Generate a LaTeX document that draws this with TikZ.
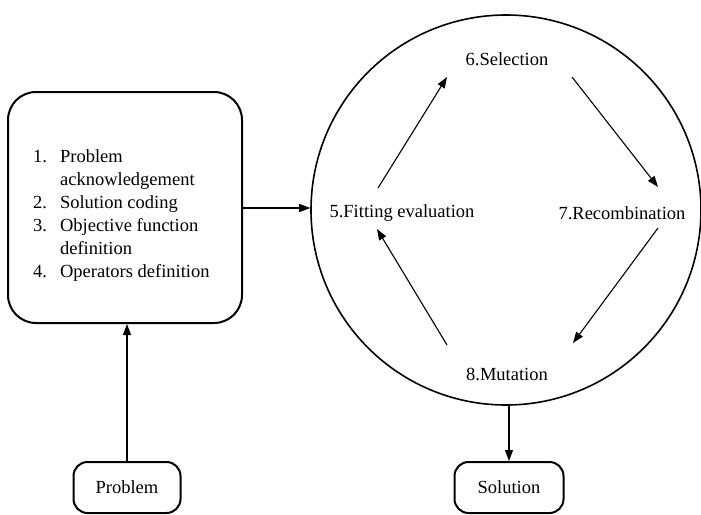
\documentclass[tikz,border=0pt]{standalone}
\usepackage{fontspec}
\setmainfont{Liberation Serif}
\usetikzlibrary{arrows.meta}
\begin{document}
\begin{tikzpicture}[x=1pt,y=-1pt,
  font=\fontsize{18.5}{23}\selectfont,
  rbox/.style={draw,line width=2pt,rounded corners=14pt,inner sep=0pt},
  bigbox/.style={draw,line width=2pt,rounded corners=28pt,inner sep=0pt},
  lbl/.style={inner sep=0pt},
  arr/.style={line width=1.1pt,-{Triangle[length=11pt,width=8pt]}}]
\useasboundingbox (0,0) rectangle (701,514);
% left box
\node[bigbox,minimum width=234pt,minimum height=231pt] (prep) at (125,207.5) {};
\node[lbl,anchor=north west] (steps) at (33,146) {%
  \begin{tabular}{@{}l@{\hspace{13pt}}l@{}}
  1. & Problem\\
     & acknowledgement\\
  2. & Solution coding\\
  3. & Objective function\\
     & definition\\
  4. & Operators definition
  \end{tabular}};
% circle
\node[draw,circle,line width=1.6pt,minimum size=390pt,inner sep=0pt] (cyc) at (506,210) {};
\node[lbl] (sel) at (507,59) {6.Selection};
\node[lbl] (fit) at (402,213) {5.Fitting evaluation};
\node[lbl] (rec) at (622,213) {7.Recombination};
\node[lbl] (mut) at (507,374) {8.Mutation};
% bottom boxes
\node[rbox,minimum width=107pt,minimum height=51pt] (prob) at (127,487.5) {Problem};
\node[rbox,minimum width=109pt,minimum height=51pt] (sol) at (509,487.5) {Solution};
% connectors
\draw[arr] (prep.east |- 0,208) -- (cyc.west |- 0,208);
\draw[arr] (prob.north) -- (prob.north |- prep.south);
\draw[arr] (cyc.south -| sol.north) -- (sol.north);
\draw[arr] ([shift={(-24,-25)}]fit.center) -- ([shift={(-60,18)}]sel.center);
\draw[arr] ([shift={(65,18)}]sel.center) -- ([shift={(36,-26)}]rec.center);
\draw[arr] ([shift={(36,15)}]rec.center) -- ([shift={(66,-31)}]mut.center);
\draw[arr] ([shift={(-60,-29)}]mut.center) -- ([shift={(-25,16)}]fit.center);
\end{tikzpicture}
\end{document}
